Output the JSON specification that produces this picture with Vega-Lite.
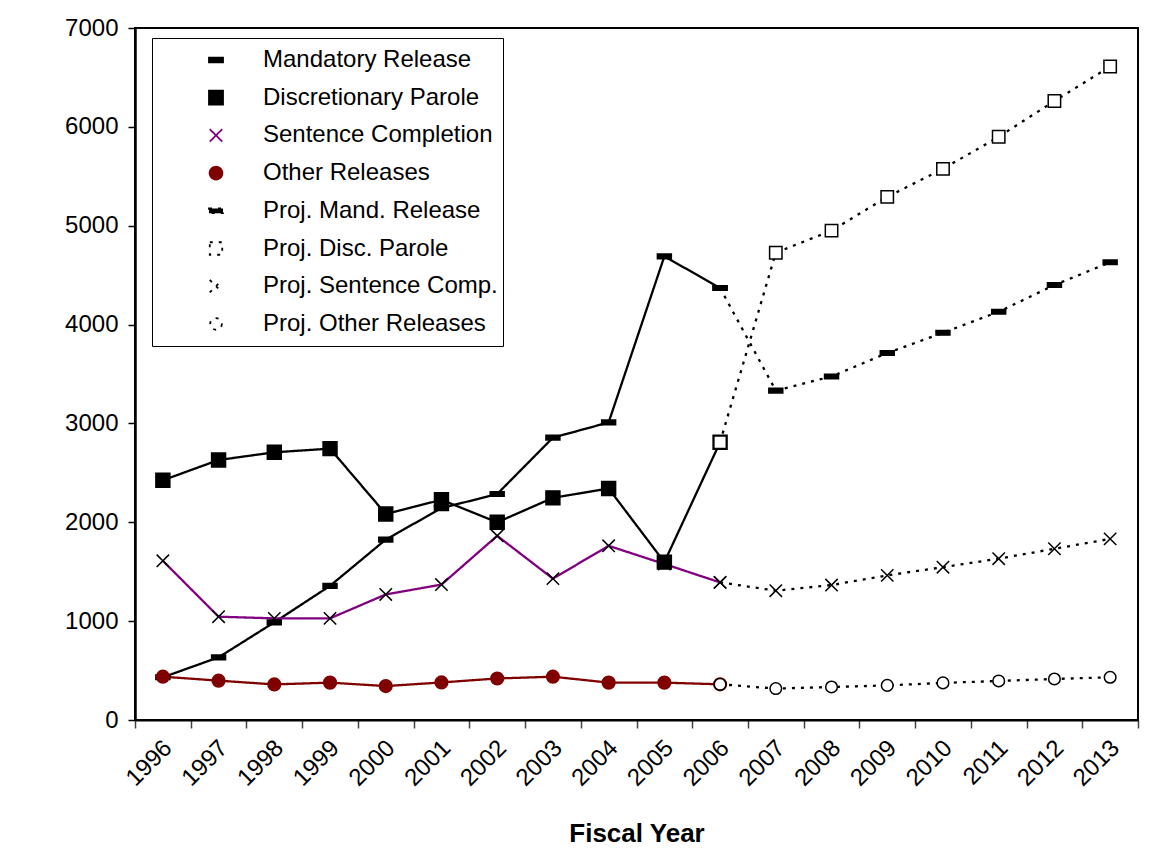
{
  "$schema": "https://vega.github.io/schema/vega-lite/v6.json",
  "autosize": {"type": "none"},
  "padding": {"left": 135, "top": 28, "right": 17, "bottom": 147},
  "width": 1003,
  "height": 692,
  "background": "white",
  "config": {
    "view": {"stroke": "black", "strokeWidth": 2},
    "font": "Liberation Sans"
  },
  "data": {
    "values": [
      {"year": 1996, "series": "Mandatory Release", "value": 432},
      {"year": 1997, "series": "Mandatory Release", "value": 634},
      {"year": 1998, "series": "Mandatory Release", "value": 988},
      {"year": 1999, "series": "Mandatory Release", "value": 1357},
      {"year": 2000, "series": "Mandatory Release", "value": 1825},
      {"year": 2001, "series": "Mandatory Release", "value": 2143},
      {"year": 2002, "series": "Mandatory Release", "value": 2286},
      {"year": 2003, "series": "Mandatory Release", "value": 2856},
      {"year": 2004, "series": "Mandatory Release", "value": 3010},
      {"year": 2005, "series": "Mandatory Release", "value": 4690},
      {"year": 2006, "series": "Mandatory Release", "value": 4370},
      {"year": 1996, "series": "Discretionary Parole", "value": 2425},
      {"year": 1997, "series": "Discretionary Parole", "value": 2630},
      {"year": 1998, "series": "Discretionary Parole", "value": 2708},
      {"year": 1999, "series": "Discretionary Parole", "value": 2745},
      {"year": 2000, "series": "Discretionary Parole", "value": 2084},
      {"year": 2001, "series": "Discretionary Parole", "value": 2227},
      {"year": 2002, "series": "Discretionary Parole", "value": 2000},
      {"year": 2003, "series": "Discretionary Parole", "value": 2247},
      {"year": 2004, "series": "Discretionary Parole", "value": 2342},
      {"year": 2005, "series": "Discretionary Parole", "value": 1597},
      {"year": 2006, "series": "Discretionary Parole", "value": 2810},
      {"year": 1996, "series": "Sentence Completion", "value": 1610},
      {"year": 1997, "series": "Sentence Completion", "value": 1045},
      {"year": 1998, "series": "Sentence Completion", "value": 1028},
      {"year": 1999, "series": "Sentence Completion", "value": 1028},
      {"year": 2000, "series": "Sentence Completion", "value": 1270},
      {"year": 2001, "series": "Sentence Completion", "value": 1370},
      {"year": 2002, "series": "Sentence Completion", "value": 1863},
      {"year": 2003, "series": "Sentence Completion", "value": 1430},
      {"year": 2004, "series": "Sentence Completion", "value": 1762},
      {"year": 2005, "series": "Sentence Completion", "value": 1578},
      {"year": 2006, "series": "Sentence Completion", "value": 1392},
      {"year": 1996, "series": "Other Releases", "value": 438},
      {"year": 1997, "series": "Other Releases", "value": 398},
      {"year": 1998, "series": "Other Releases", "value": 360},
      {"year": 1999, "series": "Other Releases", "value": 378},
      {"year": 2000, "series": "Other Releases", "value": 343},
      {"year": 2001, "series": "Other Releases", "value": 380},
      {"year": 2002, "series": "Other Releases", "value": 420},
      {"year": 2003, "series": "Other Releases", "value": 438},
      {"year": 2004, "series": "Other Releases", "value": 378},
      {"year": 2005, "series": "Other Releases", "value": 378},
      {"year": 2006, "series": "Other Releases", "value": 361},
      {"year": 2006, "series": "Proj. Mand. Release", "value": 4370},
      {"year": 2007, "series": "Proj. Mand. Release", "value": 3332},
      {"year": 2008, "series": "Proj. Mand. Release", "value": 3475},
      {"year": 2009, "series": "Proj. Mand. Release", "value": 3712},
      {"year": 2010, "series": "Proj. Mand. Release", "value": 3917},
      {"year": 2011, "series": "Proj. Mand. Release", "value": 4130},
      {"year": 2012, "series": "Proj. Mand. Release", "value": 4400},
      {"year": 2013, "series": "Proj. Mand. Release", "value": 4630},
      {"year": 2006, "series": "Proj. Disc. Parole", "value": 2810},
      {"year": 2007, "series": "Proj. Disc. Parole", "value": 4727},
      {"year": 2008, "series": "Proj. Disc. Parole", "value": 4950},
      {"year": 2009, "series": "Proj. Disc. Parole", "value": 5292},
      {"year": 2010, "series": "Proj. Disc. Parole", "value": 5575},
      {"year": 2011, "series": "Proj. Disc. Parole", "value": 5900},
      {"year": 2012, "series": "Proj. Disc. Parole", "value": 6261},
      {"year": 2013, "series": "Proj. Disc. Parole", "value": 6610},
      {"year": 2006, "series": "Proj. Sentence Comp.", "value": 1392},
      {"year": 2007, "series": "Proj. Sentence Comp.", "value": 1308},
      {"year": 2008, "series": "Proj. Sentence Comp.", "value": 1365},
      {"year": 2009, "series": "Proj. Sentence Comp.", "value": 1463},
      {"year": 2010, "series": "Proj. Sentence Comp.", "value": 1546},
      {"year": 2011, "series": "Proj. Sentence Comp.", "value": 1632},
      {"year": 2012, "series": "Proj. Sentence Comp.", "value": 1732},
      {"year": 2013, "series": "Proj. Sentence Comp.", "value": 1832},
      {"year": 2006, "series": "Proj. Other Releases", "value": 361},
      {"year": 2007, "series": "Proj. Other Releases", "value": 318},
      {"year": 2008, "series": "Proj. Other Releases", "value": 334},
      {"year": 2009, "series": "Proj. Other Releases", "value": 350},
      {"year": 2010, "series": "Proj. Other Releases", "value": 375},
      {"year": 2011, "series": "Proj. Other Releases", "value": 395},
      {"year": 2012, "series": "Proj. Other Releases", "value": 415},
      {"year": 2013, "series": "Proj. Other Releases", "value": 432}
    ]
  },
  "encoding": {
    "x": {
      "field": "year",
      "type": "ordinal",
      "scale": {"type": "band", "paddingInner": 0, "paddingOuter": 0},
      "axis": {
        "title": "Fiscal Year",
        "titleFont": "Liberation Sans",
        "titleFontSize": 26,
        "titleFontWeight": "bold",
        "titleColor": "black",
        "titlePadding": 30,
        "labelAngle": -45,
        "labelAlign": "right",
        "labelBaseline": "middle",
        "labelFont": "Liberation Sans",
        "labelFontSize": 24,
        "labelColor": "black",
        "labelPadding": 16,
        "labelOffset": 5,
        "tickBand": "extent",
        "tickSize": 8,
        "tickColor": "#444444",
        "tickWidth": 1.5,
        "domainColor": "black",
        "domainWidth": 2,
        "grid": false
      }
    },
    "y": {
      "field": "value",
      "type": "quantitative",
      "scale": {"domain": [0, 7000], "nice": false},
      "axis": {
        "title": null,
        "format": "d",
        "values": [0, 1000, 2000, 3000, 4000, 5000, 6000, 7000],
        "labelFont": "Liberation Sans",
        "labelFontSize": 24,
        "labelColor": "black",
        "labelPadding": 10,
        "tickSize": 7,
        "tickColor": "black",
        "tickWidth": 1.5,
        "domainColor": "black",
        "domainWidth": 2.5,
        "grid": false
      }
    }
  },
  "layer": [
    {
      "mark": {"type": "line", "strokeWidth": 2.3},
      "encoding": {
        "color": {
          "field": "series",
          "type": "nominal",
          "scale": {
            "domain": ["Mandatory Release", "Discretionary Parole", "Sentence Completion", "Other Releases", "Proj. Mand. Release", "Proj. Disc. Parole", "Proj. Sentence Comp.", "Proj. Other Releases"],
            "range": ["black", "black", "#800080", "#800000", "black", "black", "black", "black"]
          },
          "legend": {
            "orient": "none",
            "legendX": 17,
            "legendY": 10,
            "title": null,
            "padding": 5,
            "fillColor": "white",
            "strokeColor": "black",
            "clipHeight": 34,
            "rowPadding": 3.7,
            "symbolSize": 243,
            "symbolStrokeWidth": 1.8,
            "symbolOffset": 47,
            "labelOffset": 35,
            "labelFont": "Liberation Sans",
            "labelFontSize": 24,
            "labelColor": "black",
            "labelLimit": 400,
            "labelExpr": "datum.label + '       '",
            "encode": {
              "symbols": {
                "update": {
                  "shape": {"signal": "datum.value == 'Mandatory Release' ? 'M-1,0H1M-0.16,-0.07H0.16V0.07H-0.16Z' : datum.value == 'Discretionary Parole' ? 'M-1,0H1M-0.18,-0.18H0.18V0.18H-0.18Z' : datum.value == 'Sentence Completion' ? 'M-1,0H1M-0.14,-0.14L0.14,0.14M-0.14,0.14L0.14,-0.14' : datum.value == 'Other Releases' ? 'M-1,0H1M0.17,0A0.17,0.17,0,1,1,-0.17,0A0.17,0.17,0,1,1,0.17,0Z' : datum.value == 'Proj. Mand. Release' ? 'M-1,0H-0.93M-0.77,0H-0.7M-0.54,0H-0.47M-0.31,0H-0.24M0.24,0H0.31M0.47,0H0.54M0.7,0H0.77M0.93,0H1M-0.16,-0.07H0.16V0.07H-0.16Z' : datum.value == 'Proj. Disc. Parole' ? 'M-1,0H-0.93M-0.77,0H-0.7M-0.54,0H-0.47M-0.31,0H-0.16M0.16,0H0.31M0.47,0H0.54M0.7,0H0.77M0.93,0H1M-0.16,-0.16H0.16V0.16H-0.16Z' : datum.value == 'Proj. Sentence Comp.' ? 'M-1,0H-0.93M-0.77,0H-0.7M-0.54,0H-0.47M-0.31,0H-0.24M0.24,0H0.31M0.47,0H0.54M0.7,0H0.77M0.93,0H1M-0.14,-0.14L0.14,0.14M-0.14,0.14L0.14,-0.14' : 'M-1,0H-0.93M-0.77,0H-0.7M-0.54,0H-0.47M-0.31,0H-0.14M0.14,0H0.31M0.47,0H0.54M0.7,0H0.77M0.93,0H1M0.14,0A0.14,0.14,0,1,1,-0.14,0A0.14,0.14,0,1,1,0.14,0Z'"},
                  "fill": {"signal": "datum.value == 'Sentence Completion' || datum.value == 'Proj. Sentence Comp.' ? 'transparent' : datum.value == 'Other Releases' ? '#800000' : datum.value == 'Proj. Disc. Parole' || datum.value == 'Proj. Other Releases' ? 'white' : 'black'"},
                  "stroke": {"signal": "datum.value == 'Sentence Completion' ? '#800080' : datum.value == 'Other Releases' ? '#800000' : 'black'"},
                  "strokeDash": {"value": [1, 0]},
                  "opacity": {"value": 1}
                }
              }
            }
          }
        },
        "strokeDash": {
          "field": "series",
          "type": "nominal",
          "scale": {
            "domain": ["Mandatory Release", "Discretionary Parole", "Sentence Completion", "Other Releases", "Proj. Mand. Release", "Proj. Disc. Parole", "Proj. Sentence Comp.", "Proj. Other Releases"],
            "range": [[1, 0], [1, 0], [1, 0], [1, 0], [3, 6], [3, 6], [3, 6], [3, 6]]
          },
          "legend": null
        }
      }
    },
    {
      "mark": {"type": "point", "size": 240, "strokeWidth": 1.5, "opacity": 1},
      "encoding": {
        "shape": {
          "field": "series",
          "type": "nominal",
          "scale": {
            "domain": ["Mandatory Release", "Discretionary Parole", "Sentence Completion", "Other Releases", "Proj. Mand. Release", "Proj. Disc. Parole", "Proj. Sentence Comp.", "Proj. Other Releases"],
            "range": [
              "M-0.9,-0.3H0.9V0.3H-0.9Z",
              "M-0.9,-0.9H0.9V0.9H-0.9Z",
              "M-0.8,-0.8L0.8,0.8M-0.8,0.8L0.8,-0.8",
              "M0.82,0A0.82,0.82,0,1,1,-0.82,0A0.82,0.82,0,1,1,0.82,0Z",
              "M-0.9,-0.3H0.9V0.3H-0.9Z",
              "M-0.8,-0.8H0.8V0.8H-0.8Z",
              "M-0.8,-0.8L0.8,0.8M-0.8,0.8L0.8,-0.8",
              "M0.75,0A0.75,0.75,0,1,1,-0.75,0A0.75,0.75,0,1,1,0.75,0Z"
            ]
          },
          "legend": null
        },
        "fill": {
          "field": "series",
          "type": "nominal",
          "scale": {
            "domain": ["Mandatory Release", "Discretionary Parole", "Sentence Completion", "Other Releases", "Proj. Mand. Release", "Proj. Disc. Parole", "Proj. Sentence Comp.", "Proj. Other Releases"],
            "range": ["black", "black", "transparent", "#800000", "black", "white", "transparent", "white"]
          },
          "legend": null
        },
        "stroke": {
          "field": "series",
          "type": "nominal",
          "scale": {
            "domain": ["Mandatory Release", "Discretionary Parole", "Sentence Completion", "Other Releases", "Proj. Mand. Release", "Proj. Disc. Parole", "Proj. Sentence Comp.", "Proj. Other Releases"],
            "range": ["black", "black", "black", "#800000", "black", "black", "black", "black"]
          },
          "legend": null
        }
      }
    }
  ]
}
